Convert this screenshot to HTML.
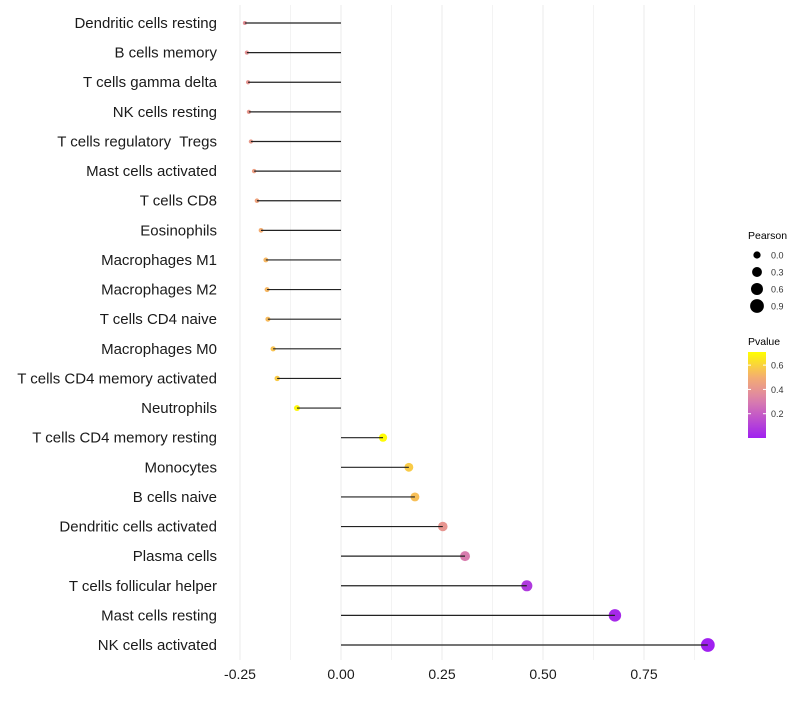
<!DOCTYPE html>
<html><head><meta charset="utf-8"><style>
body{margin:0;background:#fff;font-family:"Liberation Sans",sans-serif}
text{white-space:pre}
</style></head><body>
<svg id="c" width="800" height="700" xmlns="http://www.w3.org/2000/svg" xml:space="preserve"></svg>
<script>
const categories=["Dendritic cells resting","B cells memory","T cells gamma delta","NK cells resting","T cells regulatory  Tregs","Mast cells activated","T cells CD8","Eosinophils","Macrophages M1","Macrophages M2","T cells CD4 naive","Macrophages M0","T cells CD4 memory activated","Neutrophils","T cells CD4 memory resting","Monocytes","B cells naive","Dendritic cells activated","Plasma cells","T cells follicular helper","Mast cells resting","NK cells activated"];
const pearson=[-0.238,-0.233,-0.23,-0.228,-0.223,-0.215,-0.208,-0.198,-0.186,-0.183,-0.181,-0.168,-0.158,-0.109,0.104,0.168,0.183,0.252,0.307,0.46,0.678,0.908];
const pvalue=[0.38,0.39,0.4,0.41,0.42,0.44,0.46,0.5,0.53,0.53,0.54,0.56,0.58,0.69,0.7,0.58,0.55,0.4,0.3,0.08,0.03,0.0];
const xTicks=[-0.25,0,0.25,0.5,0.75];
const xTickLabels=["-0.25","0.00","0.25","0.50","0.75"];
const sizeBreaks=[0,0.3,0.6,0.9];
const colorBreaks=[0.2,0.4,0.6];
const NS="http://www.w3.org/2000/svg";
const svg=document.getElementById('c');
const x=v=>341+v*404;
const y=i=>23+i*29.62;
const rad=v=>Math.sqrt(Math.max(1,4+38*(v+0.24)));
const pmax=0.708;
function lerp(a,b,t){return a.map((c,i)=>Math.round(c+(b[i]-c)*t));}
function col(p){const t=Math.max(0,Math.min(1,p/pmax));const s=[[160,32,240],[220,130,170],[245,175,110],[255,255,0]];const k=[0,0.45,0.72,1];
for(let i=0;i<3;i++){if(t<=k[i+1]){const c=lerp(s[i],s[i+1],(t-k[i])/(k[i+1]-k[i]));return `rgb(${c})`;}}return 'rgb(255,255,0)';}
function el(t,a,txt){const e=document.createElementNS(NS,t);for(const k in a)e.setAttribute(k,a[k]);if(txt!==undefined)e.textContent=txt;svg.appendChild(e);return e;}
for(let v=-0.25;v<=0.9;v+=0.125){const g=el('line',{x1:x(v),x2:x(v),y1:5,y2:660,stroke:'#ebebeb','stroke-width':Math.abs((v*4)%1)<1e-6?1:0.6});

}
xTicks.forEach((v,i)=>{const t=el('text',{x:x(v),y:679,'text-anchor':'middle','font-size':14,fill:'#1a1a1a'},xTickLabels[i]);

});
categories.forEach((c,i)=>{
const t=el('text',{x:217,y:y(i)+5,'text-anchor':'end','font-size':15,fill:'#1a1a1a'},c);


const d=el('circle',{cx:x(pearson[i]),cy:y(i),r:rad(pearson[i]),fill:col(pvalue[i])});


const l=el('line',{x1:x(0),x2:x(pearson[i]),y1:y(i),y2:y(i),stroke:'#222','stroke-width':1.2});


});
let t=el('text',{x:748,y:239,'font-size':10.5},'Pearson');


sizeBreaks.forEach((s,i)=>{const cy=255+i*17;
const c=el('circle',{cx:757,cy:cy,r:rad(s),fill:'#000'});


const tt=el('text',{x:771,y:cy+3.5,'font-size':9,fill:'#333'},s.toFixed(1));

});
t=el('text',{x:748,y:345,'font-size':10.5},'Pvalue');


const defs=el('defs',{});
const lg=document.createElementNS(NS,'linearGradient');lg.setAttribute('id','g');lg.setAttribute('x1',0);lg.setAttribute('y1',1);lg.setAttribute('x2',0);lg.setAttribute('y2',0);defs.appendChild(lg);
for(let k=0;k<=10;k++){const s=document.createElementNS(NS,'stop');s.setAttribute('offset',k/10);s.setAttribute('stop-color',col(pmax*k/10));lg.appendChild(s);}
const bar=el('rect',{x:748,y:352,width:18,height:86,fill:'url(#g)'});


colorBreaks.forEach(p=>{const yy=438-p/pmax*86;
el('line',{x1:748,x2:751,y1:yy,y2:yy,stroke:'#fff'});el('line',{x1:763,x2:766,y1:yy,y2:yy,stroke:'#fff'});
const tt=el('text',{x:771,y:yy+3.5,'font-size':9,fill:'#333'},p.toFixed(1));

});
</script>
</body></html>
